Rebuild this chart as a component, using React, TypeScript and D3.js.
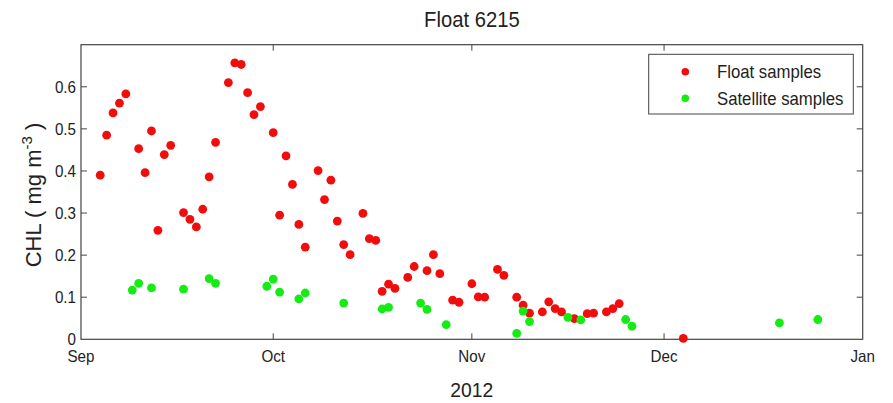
import React, { useEffect, useRef } from 'react';
import * as d3 from 'd3';

// days after 1 Sep 2012 and CHL values
const floatDays = [3, 4, 5, 6, 7, 9, 10, 11, 12, 13, 14, 16, 17, 18, 19, 20, 21, 23, 24, 25, 26, 27, 28, 30, 31, 32, 33, 34, 35, 37, 38, 39, 40, 41, 42, 44, 45, 46, 47, 48, 49, 51, 52, 54, 55, 56, 58, 59, 61, 62, 63, 65, 66, 68, 69, 70, 72, 73, 74, 75, 77, 79, 80, 82, 83, 84, 94];
const floatChl = [0.390, 0.485, 0.538, 0.561, 0.583, 0.453, 0.396, 0.495, 0.259, 0.439, 0.461, 0.301, 0.285, 0.267, 0.309, 0.386, 0.468, 0.610, 0.657, 0.653, 0.586, 0.534, 0.553, 0.491, 0.295, 0.436, 0.368, 0.273, 0.219, 0.401, 0.332, 0.378, 0.281, 0.225, 0.201, 0.299, 0.239, 0.235, 0.114, 0.131, 0.121, 0.147, 0.173, 0.163, 0.201, 0.156, 0.093, 0.088, 0.132, 0.101, 0.100, 0.166, 0.152, 0.100, 0.081, 0.062, 0.065, 0.089, 0.073, 0.065, 0.049, 0.061, 0.062, 0.065, 0.073, 0.085, 0.002];

const satDays = [8, 9, 11, 16, 20, 21, 29, 30, 31, 34, 35, 41, 47, 48, 53, 54, 57, 68, 69, 70, 76, 78, 85, 86, 109, 115];
const satChl = [0.117, 0.133, 0.122, 0.119, 0.144, 0.133, 0.126, 0.143, 0.112, 0.096, 0.110, 0.086, 0.072, 0.076, 0.086, 0.071, 0.035, 0.014, 0.067, 0.042, 0.052, 0.046, 0.047, 0.031, 0.039, 0.047];

const monthTicks = ['2012-09-01', '2012-10-01', '2012-11-01', '2012-12-01', '2013-01-01'];
const yTicks = [0, 0.1, 0.2, 0.3, 0.4, 0.5, 0.6, 0.7];

const App: React.FC = () => {
  const svgRef = useRef<SVGSVGElement | null>(null);

  useEffect(() => {
    if (!svgRef.current) return;
    document.body.style.margin = '0';

    const W = 893, H = 403;
    const left = 81, right = 862.7, top = 44.7, bottom = 339.3;
    const font = '"Liberation Sans", Arial, Helvetica, sans-serif';

    const svg = d3.select(svgRef.current).attr('width', W).attr('height', H);
    svg.selectAll('*').remove();
    svg.append('rect').attr('width', W).attr('height', H).attr('fill', '#fff');

    const start = new Date(2012, 8, 1);
    const toDate = (d: number) => d3.timeDay.offset(start, d);
    const x = d3.scaleTime()
      .domain([start, new Date(2013, 0, 1)])
      .range([left, right]);
    const y = d3.scaleLinear().domain([0, 0.7]).range([bottom, top]);

    const axisColor = '#444';
    const tickLen = 6;

    // narrow, tall text like the original's Helvetica
    const narrow = (sx: number, px: number, py: number) =>
      `translate(${px},${py}) scale(${sx},1) translate(${-px},${-py})`;

    // x ticks (bottom & top, inward)
    monthTicks.forEach((m, i) => {
      const d = d3.timeParse('%Y-%m-%d')(m)!;
      const px = x(d);
      if (i > 0 && i < monthTicks.length - 1) {
        svg.append('line').attr('x1', px).attr('x2', px).attr('y1', bottom).attr('y2', bottom - tickLen)
          .attr('stroke', axisColor).attr('stroke-width', 1);
        svg.append('line').attr('x1', px).attr('x2', px).attr('y1', top).attr('y2', top + tickLen)
          .attr('stroke', axisColor).attr('stroke-width', 1);
      }
      svg.append('text')
        .attr('x', px).attr('y', 362)
        .attr('text-anchor', 'middle')
        .attr('font-family', font).attr('font-size', 16.5)
        .attr('transform', narrow(0.92, px, 362))
        .attr('fill', '#222')
        .text(d3.timeFormat('%b')(d));
    });

    // y ticks (left & right, inward)
    yTicks.forEach((t) => {
      const py = y(t);
      if (t > 0 && t < 0.7) {
        svg.append('line').attr('x1', left).attr('x2', left + tickLen).attr('y1', py).attr('y2', py)
          .attr('stroke', axisColor).attr('stroke-width', 1);
        svg.append('line').attr('x1', right).attr('x2', right - tickLen).attr('y1', py).attr('y2', py)
          .attr('stroke', axisColor).attr('stroke-width', 1);
      }
      if (t < 0.65) {
        svg.append('text')
          .attr('x', 76).attr('y', py + 5.8)
          .attr('text-anchor', 'end')
          .attr('font-family', font).attr('font-size', 16.5)
          .attr('transform', narrow(0.92, 76, py))
          .attr('fill', '#222')
          .text(t === 0 ? '0' : d3.format('.1f')(t));
      }
    });

    // axes box
    svg.append('rect')
      .attr('x', left).attr('y', top)
      .attr('width', right - left).attr('height', bottom - top)
      .attr('fill', 'none').attr('stroke', axisColor).attr('stroke-width', 1.2);

    // points
    const red = '#f20d0d';
    const green = '#14ec14';
    svg.append('g').selectAll('circle')
      .data(floatDays.map((d, i) => ({ d, v: floatChl[i] })))
      .join('circle')
      .attr('cx', p => x(toDate(p.d)))
      .attr('cy', p => y(p.v))
      .attr('r', 4.4)
      .attr('fill', red);
    svg.append('g').selectAll('circle')
      .data(satDays.map((d, i) => ({ d, v: satChl[i] })))
      .join('circle')
      .attr('cx', p => x(toDate(p.d)))
      .attr('cy', p => y(p.v))
      .attr('r', 4.4)
      .attr('fill', green);

    // title & labels
    const cx = (left + right) / 2;
    svg.append('text')
      .attr('x', cx).attr('y', 27.5)
      .attr('text-anchor', 'middle')
      .attr('font-family', font).attr('font-size', 22)
      .attr('transform', narrow(0.92, cx, 27.5))
      .attr('fill', '#222')
      .text('Float 6215');

    svg.append('text')
      .attr('x', cx).attr('y', 397)
      .attr('text-anchor', 'middle')
      .attr('font-family', font).attr('font-size', 21)
      .attr('transform', narrow(0.92, cx, 397))
      .attr('fill', '#222')
      .text('2012');

    const yl = svg.append('text')
      .attr('transform', `translate(41,195) rotate(-90)`)
      .attr('text-anchor', 'middle')
      .attr('font-family', font).attr('font-size', 22)
      .attr('fill', '#222');
    yl.append('tspan').text('CHL ( mg m');
    yl.append('tspan').attr('dy', -9).attr('font-size', 15).text('-3');
    yl.append('tspan').attr('dy', 9).text(' )');

    // legend
    const lg = svg.append('g');
    lg.append('rect')
      .attr('x', 648.7).attr('y', 54.3)
      .attr('width', 853.3 - 648.7).attr('height', 114 - 54.3)
      .attr('fill', '#fff').attr('stroke', axisColor).attr('stroke-width', 1);
    [['Float samples', red, 71.7], ['Satellite samples', green, 98.3]].forEach(([label, c, ly]) => {
      lg.append('circle').attr('cx', 685.3).attr('cy', ly as number).attr('r', 3.8).attr('fill', c as string);
      lg.append('text')
        .attr('x', 717).attr('y', (ly as number) + 6.6)
        .attr('font-family', font).attr('font-size', 18)
        .attr('transform', narrow(0.93, 717, ly as number))
        .attr('fill', '#222')
        .text(label as string);
    });
  }, []);

  return <svg ref={svgRef} style={{ display: 'block' }} />;
};

export default App;
